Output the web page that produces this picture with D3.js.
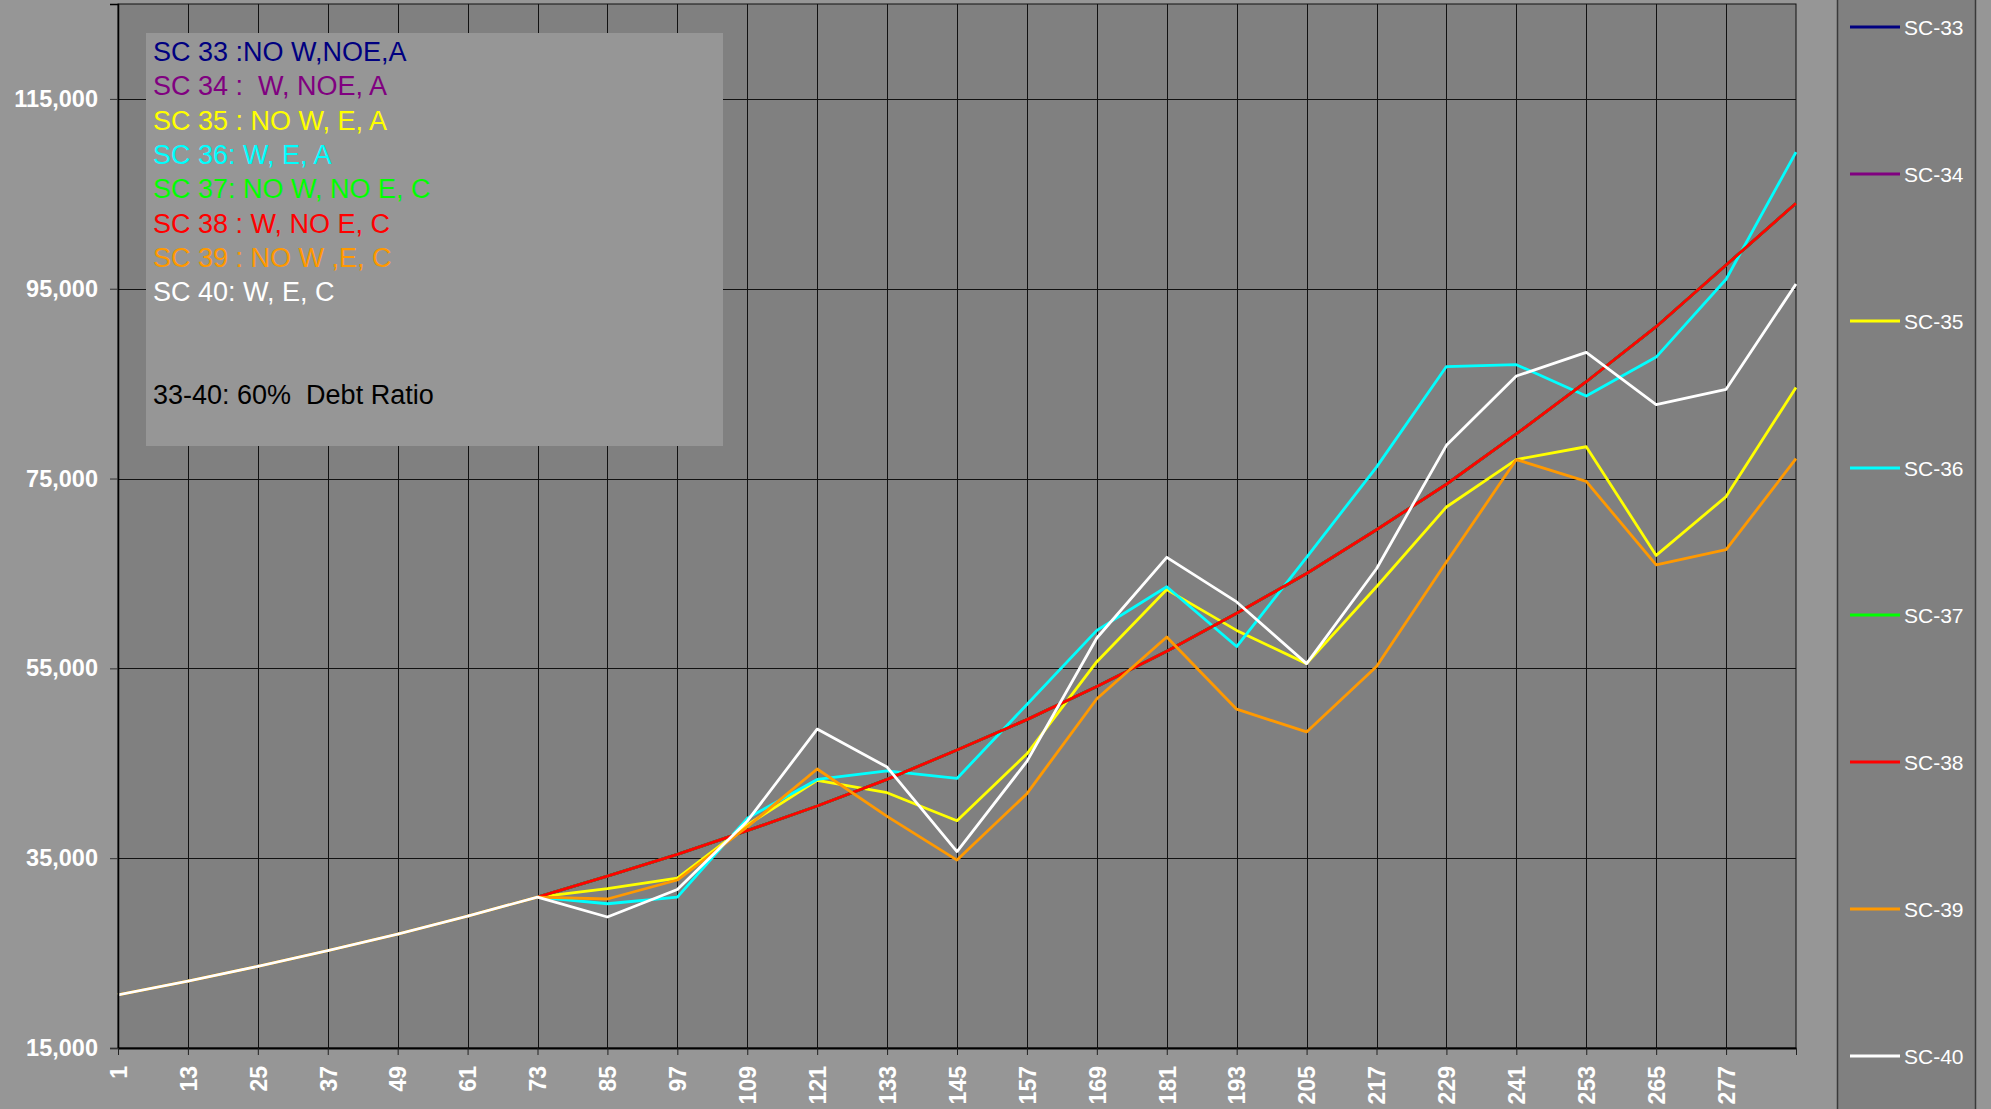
<!DOCTYPE html>
<html>
<head>
<meta charset="utf-8">
<script src="https://cdn.jsdelivr.net/npm/d3@7"></script>
<style>
  html, body { margin: 0; padding: 0; background: #969696; overflow: hidden; }
  svg { display: block; font-family: "Liberation Sans", Arial, sans-serif; }
</style>
</head>
<body>
<svg id="chart" width="1991" height="1109"></svg>
<script>
// month index on the x axis (one point per tick)
const months = [1, 13, 25, 37, 49, 61, 73, 85, 97, 109, 121, 133, 145, 157, 169, 181, 193, 205, 217, 229, 241, 253, 265, 277, 289];

// SC-33, SC-34 and SC-37 sit exactly under the red SC-38 line
const sc33 = [20600, 22050, 23600, 25250, 27000, 28900, 30900, 33100, 35400, 37900, 40500, 43300, 46400, 49600, 53100, 56800, 60800, 65000, 69600, 74400, 79700, 85200, 91000, 97500, 104000];
const sc34 = [20600, 22050, 23600, 25250, 27000, 28900, 30900, 33100, 35400, 37900, 40500, 43300, 46400, 49600, 53100, 56800, 60800, 65000, 69600, 74400, 79700, 85200, 91000, 97500, 104000];
const sc35 = [20600, 22050, 23600, 25250, 27000, 28900, 30900, 31800, 32900, 38500, 43200, 41900, 38950, 46000, 55700, 63300, 59000, 55500, 63600, 72000, 77000, 78350, 66900, 73100, 84600];
const sc36 = [20600, 22050, 23600, 25250, 27000, 28900, 30900, 30200, 30900, 39200, 43300, 44200, 43400, 51200, 59000, 63600, 57300, 66700, 76200, 86800, 87000, 83700, 87800, 96000, 109400];
const sc37 = [20600, 22050, 23600, 25250, 27000, 28900, 30900, 33100, 35400, 37900, 40500, 43300, 46400, 49600, 53100, 56800, 60800, 65000, 69600, 74400, 79700, 85200, 91000, 97500, 104000];
const sc38 = [20600, 22050, 23600, 25250, 27000, 28900, 30900, 33100, 35400, 37900, 40500, 43300, 46400, 49600, 53100, 56800, 60800, 65000, 69600, 74400, 79700, 85200, 91000, 97500, 104000];
const sc39 = [20600, 22050, 23600, 25250, 27000, 28900, 30900, 30700, 32700, 38300, 44400, 39400, 34800, 41800, 51800, 58300, 50700, 48300, 55200, 66200, 77000, 74700, 65900, 67500, 77100];
const sc40 = [20600, 22050, 23600, 25250, 27000, 28900, 30900, 28800, 31700, 38900, 48600, 44600, 35700, 45200, 58200, 66700, 62000, 55500, 65500, 78500, 85800, 88300, 82800, 84400, 95500];

const seriesNames = ["SC-33", "SC-34", "SC-35", "SC-36", "SC-37", "SC-38", "SC-39", "SC-40"];
const seriesColors = ["#000080", "#800080", "#ffff00", "#00ffff", "#00ff00", "#ff0000", "#ff9900", "#ffffff"];
const seriesValues = [sc33, sc34, sc35, sc36, sc37, sc38, sc39, sc40];

const yTicks = [15000, 35000, 55000, 75000, 95000, 115000];
const xTicks = [1, 13, 25, 37, 49, 61, 73, 85, 97, 109, 121, 133, 145, 157, 169, 181, 193, 205, 217, 229, 241, 253, 265, 277];

const noteLines = [
    "SC 33 :NO W,NOE,A",
    "SC 34 :  W, NOE, A",
    "SC 35 : NO W, E, A",
    "SC 36: W, E, A",
    "SC 37: NO W, NO E, C",
    "SC 38 : W, NO E, C",
    "SC 39 : NO W ,E, C",
    "SC 40: W, E, C"
];
const noteFooter = "33-40: 60%  Debt Ratio";

var svg = d3.select("#chart");

var plotLeft = 118, plotRight = 1796, plotTop = 4, plotBottom = 1048;

var x = d3.scaleLinear().domain([1, 289]).range([plotLeft, plotRight]);
var y = d3.scaleLinear().domain([15000, 125000]).range([plotBottom, plotTop]);

// plot area
svg.append("rect")
    .attr("x", plotLeft)
    .attr("y", plotTop)
    .attr("width", plotRight - plotLeft)
    .attr("height", plotBottom - plotTop)
    .attr("fill", "#808080")
    .attr("stroke", "#111")
    .attr("stroke-width", 1);

// gridlines
svg.append("g")
    .selectAll("line")
    .data(xTicks.slice(1))
    .enter().append("line")
    .attr("x1", d => Math.round(x(d)) + 0.5)
    .attr("x2", d => Math.round(x(d)) + 0.5)
    .attr("y1", plotTop)
    .attr("y2", plotBottom)
    .attr("stroke", "#111")
    .attr("stroke-width", 1);

svg.append("g")
    .selectAll("line")
    .data(yTicks.slice(1))
    .enter().append("line")
    .attr("x1", plotLeft)
    .attr("x2", plotRight)
    .attr("y1", d => Math.round(y(d)) + 0.5)
    .attr("y2", d => Math.round(y(d)) + 0.5)
    .attr("stroke", "#111")
    .attr("stroke-width", 1);

// text box with scenario descriptions
var note = svg.append("g");
note.append("rect")
    .attr("x", 146)
    .attr("y", 33)
    .attr("width", 577)
    .attr("height", 413)
    .attr("fill", "#969696");

note.selectAll("text.line")
    .data(noteLines)
    .enter().append("text")
    .attr("class", "line")
    .attr("x", 153)
    .attr("y", (d, i) => 61 + i * 34.3)
    .attr("fill", (d, i) => seriesColors[i])
    .style("font-size", "27px")
    .style("white-space", "pre")
    .text(d => d);

note.append("text")
    .attr("x", 153)
    .attr("y", 404)
    .attr("fill", "#000")
    .style("font-size", "27px")
    .style("white-space", "pre")
    .text(noteFooter);

// series lines
var line = d3.line()
    .x(d => x(d[0]))
    .y(d => y(d[1]));

svg.append("g")
    .selectAll("path")
    .data(seriesValues)
    .enter().append("path")
    .attr("d", vals => line(vals.map((v, i) => [months[i], v])))
    .attr("fill", "none")
    .attr("stroke", (d, i) => seriesColors[i])
    .attr("stroke-width", 2.8)
    .attr("stroke-linejoin", "round");

// y axis
var yAxis = svg.append("g")
    .attr("transform", "translate(" + plotLeft + ",0)")
    .call(d3.axisLeft(y).tickValues(yTicks).tickFormat(d3.format(",")).tickSize(8).tickPadding(12));
yAxis.select(".domain").attr("stroke", "#000").attr("stroke-width", 1.5);
yAxis.selectAll(".tick line").attr("stroke", "#333");
yAxis.selectAll("text")
    .attr("fill", "#fff")
    .style("font-size", "23.5px")
    .style("font-weight", "bold")
    .style("font-family", "'Liberation Sans', Arial, sans-serif");

// x axis
var xAxis = svg.append("g")
    .attr("transform", "translate(0," + plotBottom + ")")
    .call(d3.axisBottom(x).tickValues(xTicks.concat([289])).tickFormat(d => d === 289 ? "" : d).tickSize(7).tickSizeOuter(0));
xAxis.select(".domain").attr("stroke", "#000").attr("stroke-width", 2);
xAxis.selectAll(".tick line").attr("stroke", "#222");
xAxis.selectAll("text")
    .attr("fill", "#fff")
    .attr("transform", "rotate(-90)")
    .attr("text-anchor", "end")
    .attr("x", -18)
    .attr("y", 0)
    .attr("dy", "0.36em")
    .style("font-size", "23px")
    .style("font-weight", "bold")
    .style("font-family", "'Liberation Sans', Arial, sans-serif");

// legend
var legendY = d3.scalePoint().domain(seriesNames).range([27, 1056]);

var legend = svg.append("g");
legend.append("rect")
    .attr("x", 1837.5)
    .attr("y", -5)
    .attr("width", 138)
    .attr("height", 1120)
    .attr("fill", "#808080")
    .attr("stroke", "#3a3a3a")
    .attr("stroke-width", 1.5);

var items = legend.selectAll("g.item")
    .data(seriesNames)
    .enter().append("g")
    .attr("class", "item")
    .attr("transform", d => "translate(0," + legendY(d) + ")");

items.append("line")
    .attr("x1", 1850)
    .attr("x2", 1900)
    .attr("stroke", (d, i) => seriesColors[i])
    .attr("stroke-width", 3);

items.append("text")
    .attr("x", 1904)
    .attr("dy", "0.36em")
    .attr("fill", "#fff")
    .style("font-size", "21px")
    .text(d => d);
</script>
</body>
</html>
